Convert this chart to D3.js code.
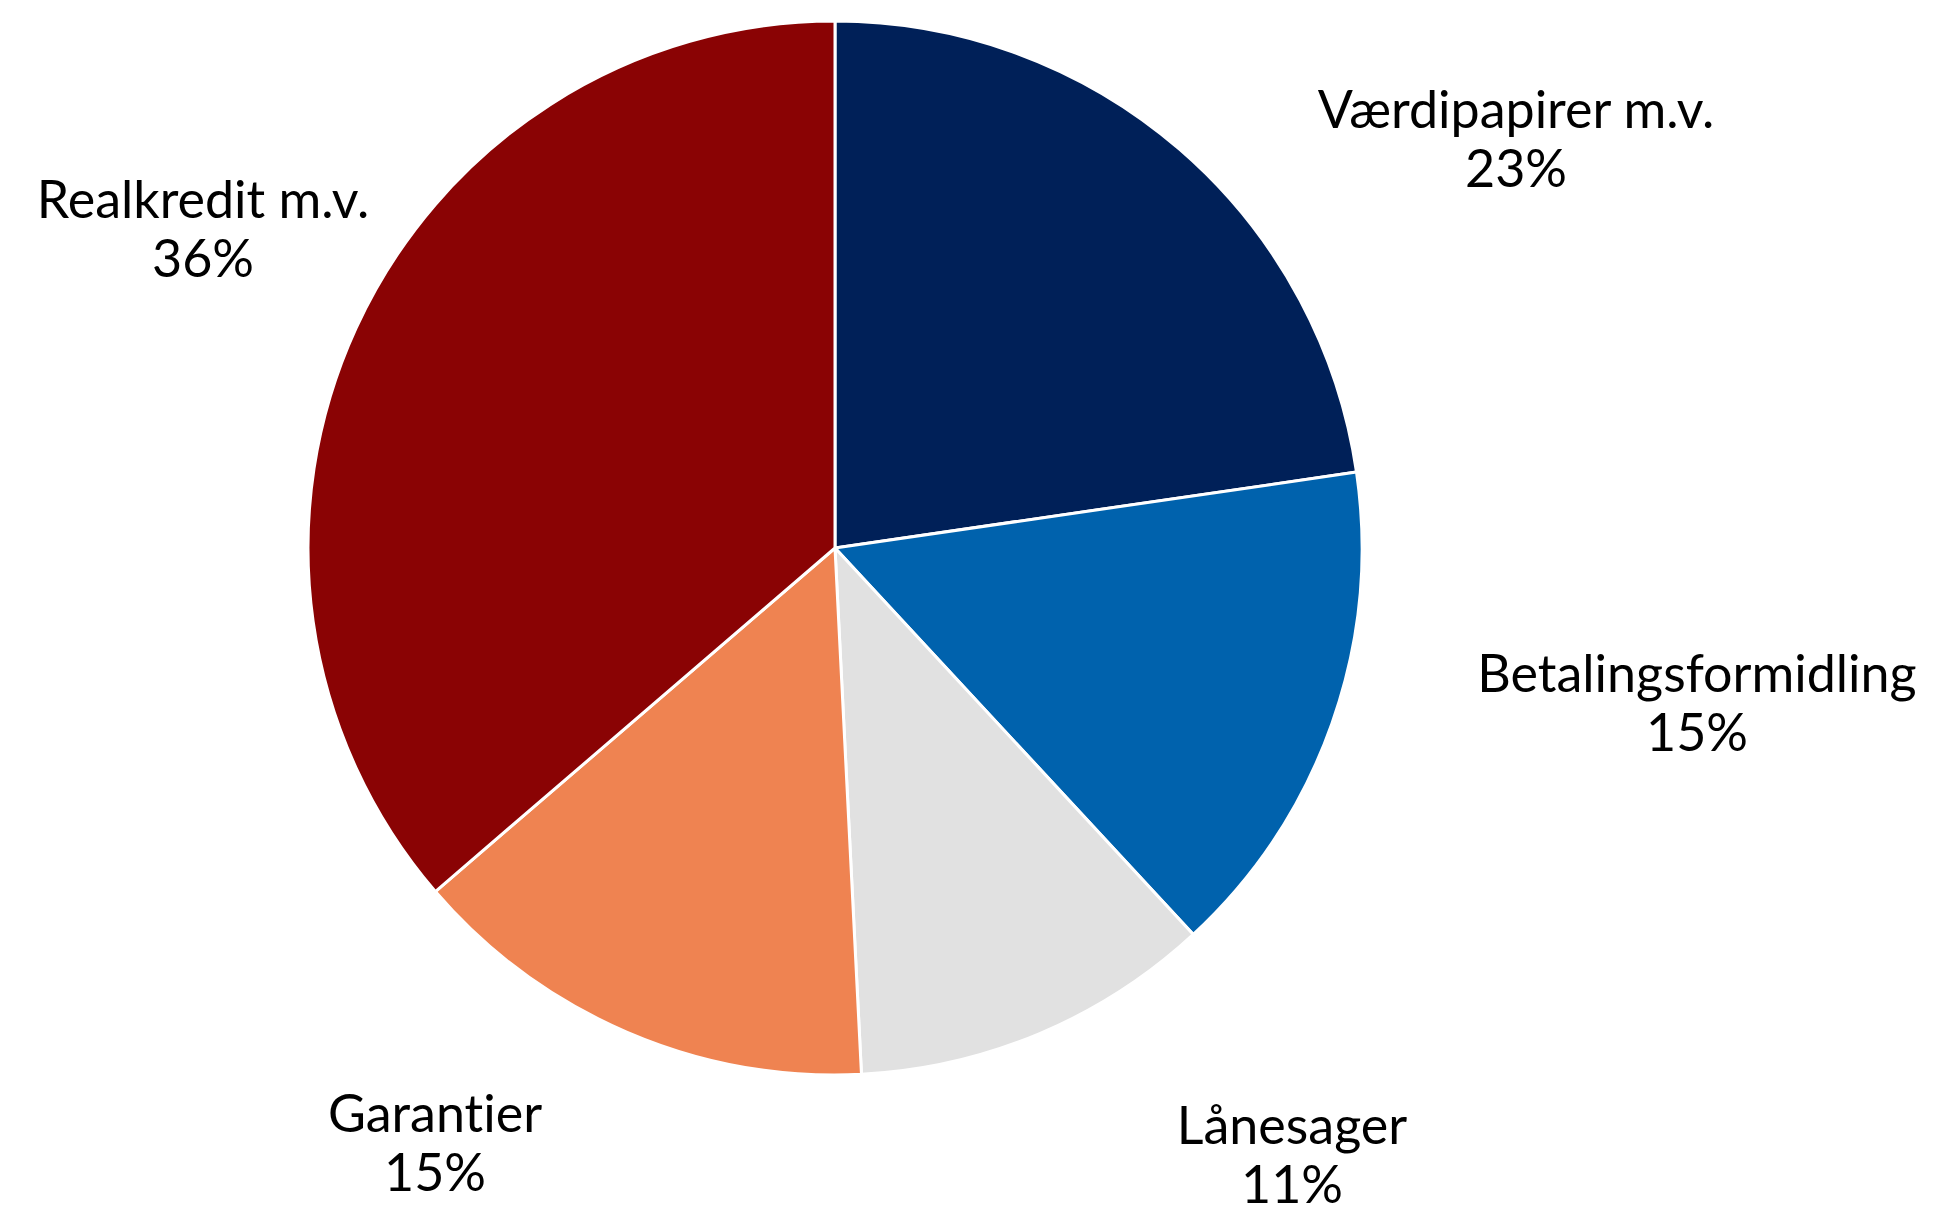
<!DOCTYPE html>
<html>
<head>
<meta charset="utf-8">
<script src="https://cdn.jsdelivr.net/npm/d3@7"></script>
<style>
  body { margin: 0; background: #fff; }
  text { font-family: Lato, "Noto Sans", sans-serif; fill: #000; font-variant-ligatures: none; }
</style>
</head>
<body>
<svg id="chart"></svg>
<script>
// data, clockwise from 12 o'clock
const categories = ["Værdipapirer m.v.", "Betalingsformidling", "Lånesager", "Garantier", "Realkredit m.v."]
const shares = [22.7, 15.4, 11.1, 14.5, 36.3]
const colors = ["#002058", "#0062AD", "#E1E1E1", "#EF8351", "#8A0304"]

// label placement (centre x, first baseline y)
const labelPos = {
  "Værdipapirer m.v.": [1516, 128],
  "Betalingsformidling": [1697, 692],
  "Lånesager": [1292, 1144],
  "Garantier": [435, 1132],
  "Realkredit m.v.": [203, 218]
}

const width = 1934
const height = 1213
const cx = 835, cy = 548
const radius = 527

const svg = d3.select("#chart")
  .attr("width", width)
  .attr("height", height)

const data = categories.map((c, i) => ({ name: c, value: shares[i], color: colors[i] }))

const pie = d3.pie()
  .value(d => d.value)
  .sort(null)

const arc = d3.arc()
  .innerRadius(0)
  .outerRadius(radius)

const g = svg.append("g")
  .attr("transform", `translate(${cx},${cy})`)

g.selectAll("path")
  .data(pie(data))
  .enter().append("path")
  .attr("d", arc)
  .attr("fill", d => d.data.color)
  .attr("stroke", "#fff")
  .attr("stroke-width", 3)
  .attr("stroke-linejoin", "round")

const labels = svg.selectAll("text.lbl")
  .data(data)
  .enter().append("text")
  .attr("class", "lbl")
  .attr("text-anchor", "middle")
  .attr("font-size", 52)
  .attr("x", d => labelPos[d.name][0])
  .attr("y", d => labelPos[d.name][1])

labels.append("tspan")
  .attr("x", d => labelPos[d.name][0])
  .text(d => d.name)

labels.append("tspan")
  .attr("x", d => labelPos[d.name][0])
  .attr("dy", 59)
  .text(d => Math.round(d.value) + "%")
</script>
</body>
</html>
